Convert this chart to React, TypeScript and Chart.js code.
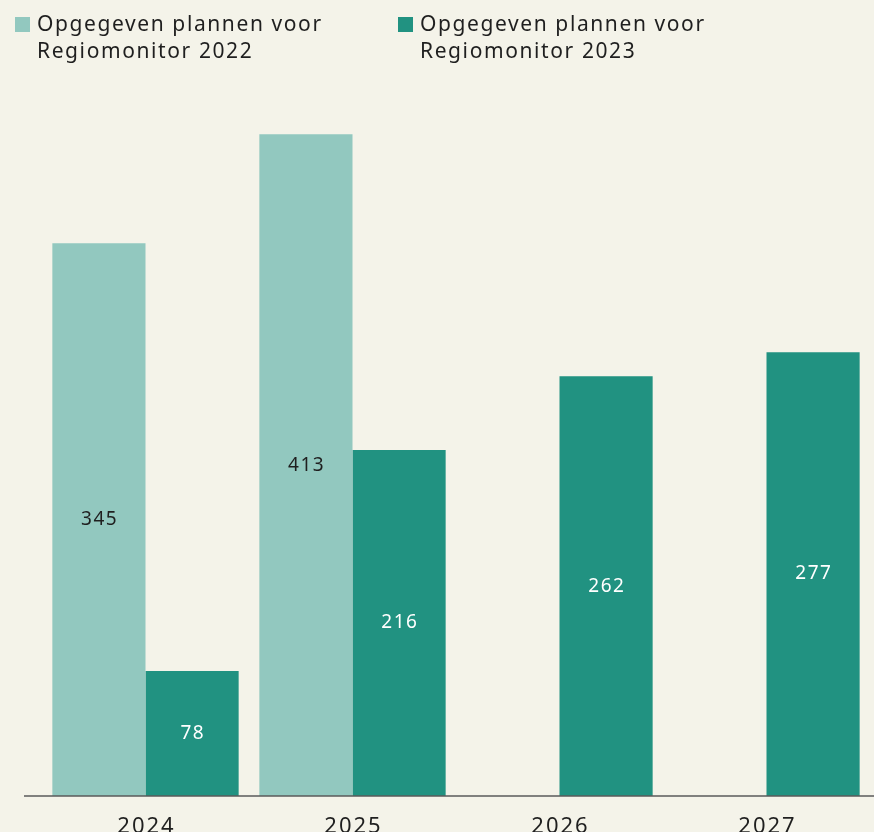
import React, { useEffect, useRef } from "react";
import { Chart, registerables } from "chart.js";

Chart.register(...registerables);

const categories = ["2024", "2025", "2026", "2027"];
const series2022 = [345, 413, null, null];
const series2023 = [78, 216, 262, 277];
const legendLabels = [
  ["Opgegeven plannen voor", "Regiomonitor 2022"],
  ["Opgegeven plannen voor", "Regiomonitor 2023"],
];

const LIGHT = "#92c8bf";
const DARK = "#219281";
const BG = "#f4f3e9";
const TEXT = "#1f1f1f";
const FONT = "'Noto Sans', sans-serif";

export default function App() {
  const ref = useRef<HTMLCanvasElement | null>(null);

  useEffect(() => {
    document.body.style.margin = "0";
    const canvas = ref.current;
    if (!canvas) return;

    const labelPlugin = {
      id: "valueLabels",
      afterDatasetsDraw(chart: any) {
        const ctx = chart.ctx;
        ctx.save();
        chart.data.datasets.forEach((ds: any, di: number) => {
          const meta = chart.getDatasetMeta(di);
          meta.data.forEach((el: any, i: number) => {
            const v = ds.data[i];
            if (v == null) return;
            ctx.font = `19px ${FONT}`;
            (ctx as any).letterSpacing = "1.5px";
            ctx.fillStyle = di === 0 ? TEXT : "#ffffff";
            ctx.textAlign = "center";
            ctx.textBaseline = "middle";
            ctx.fillText(String(v), el.x + 0.75, (el.y + el.base) / 2);
          });
        });
        // axis line
        const y = chart.chartArea.bottom;
        ctx.strokeStyle = "#5a5a5a";
        ctx.lineWidth = 1.5;
        ctx.beginPath();
        ctx.moveTo(24, y);
        ctx.lineTo(chart.width, y);
        ctx.stroke();
        // category labels
        const xs = chart.scales.x;
        ctx.font = `22px ${FONT}`;
        (ctx as any).letterSpacing = "2px";
        ctx.fillStyle = TEXT;
        ctx.textAlign = "center";
        ctx.textBaseline = "alphabetic";
        chart.data.labels.forEach((lab: string, i: number) => {
          const x = xs.getPixelForValue(i);
          ctx.fillText(lab, x + 1, y + 37);
        });
        ctx.restore();
      },
    };

    const chart = new Chart(canvas, {
      type: "bar",
      data: {
        labels: categories,
        datasets: [
          {
            label: legendLabels[0].join(" "),
            data: series2022 as any,
            backgroundColor: LIGHT,
            categoryPercentage: 0.9,
            barPercentage: 1,
          } as any,
          {
            label: legendLabels[1].join(" "),
            data: series2023,
            backgroundColor: DARK,
            categoryPercentage: 0.9,
            barPercentage: 1,
          } as any,
        ],
      },
      options: {
        responsive: false,
        animation: false,
        layout: { padding: { top: 75, left: 42, right: 4, bottom: 0 } },
        plugins: {
          legend: { display: false },
          tooltip: { enabled: false },
        },
        scales: {
          x: {
            grid: { display: false, drawTicks: false },
            border: { display: false },
            ticks: { display: false },
            afterFit(scale: any) {
              scale.height = 36;
            },
          },
          y: {
            display: false,
            min: 0,
            max: 450,
          },
        },
      },
      plugins: [labelPlugin],
    });

    return () => chart.destroy();
  }, []);

  const legendItem = (left: number, color: string, lines: string[]) => (
    <div style={{ position: "absolute", left, top: 0 }}>
      <div
        style={{
          position: "absolute",
          left: 0,
          top: 17,
          width: 15,
          height: 15,
          background: color,
        }}
      />
      <div
        style={{
          position: "absolute",
          left: 22,
          top: 10,
          whiteSpace: "nowrap",
          font: `21px ${FONT}`,
          lineHeight: "27px",
          letterSpacing: "1.6px",
          color: TEXT,
        }}
      >
        {lines.map((l, i) => (
          <div key={i}>{l}</div>
        ))}
      </div>
    </div>
  );

  return (
    <div
      style={{
        position: "relative",
        width: 874,
        height: 832,
        background: BG,
        overflow: "hidden",
      }}
    >
      <canvas
        ref={ref}
        width={874}
        height={832}
        style={{ position: "absolute", left: 0, top: 0 }}
      />
      {legendItem(15, LIGHT, legendLabels[0])}
      {legendItem(398, DARK, legendLabels[1])}
    </div>
  );
}
